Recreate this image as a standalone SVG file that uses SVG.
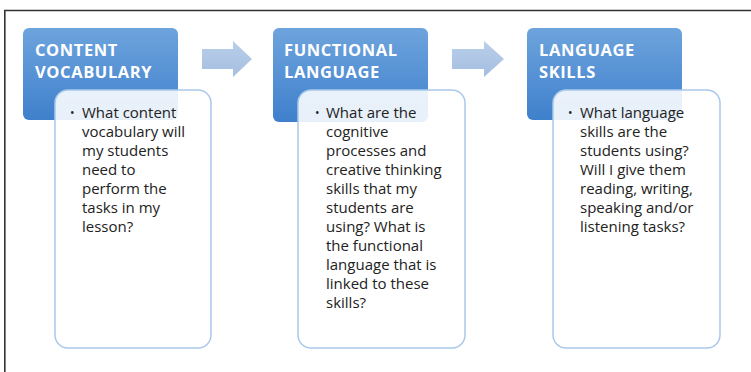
<svg xmlns="http://www.w3.org/2000/svg" width="751" height="372" viewBox="0 0 751 372">
<style>
.hdr{fill:url(#hg)}
.card{fill:#ffffff;fill-opacity:0.88;stroke:#a9c9ec;stroke-width:1.5}
.ht{font-family:"Open Sans","Noto Sans",sans-serif;font-weight:bold;font-size:16.5px;letter-spacing:0.6px;fill:#ffffff}
.bt{font-family:"Open Sans","Noto Sans",sans-serif;font-size:15px;fill:#222222}
.bl{font-family:"Open Sans","Noto Sans",sans-serif;font-size:12px;fill:#222222}
.arr{fill:url(#ag)}
.frame{stroke:#333;stroke-width:1.6;fill:none}
</style>
<defs>
<linearGradient id="hg" x1="0" y1="0" x2="0" y2="1">
<stop offset="0" stop-color="#6ea4dd"/>
<stop offset="1" stop-color="#3f80cc"/>
</linearGradient>
<linearGradient id="ag" x1="0" y1="0" x2="0" y2="1">
<stop offset="0" stop-color="#b9cfea"/>
<stop offset="1" stop-color="#a5bde0"/>
</linearGradient>
</defs>
<rect width="751" height="372" fill="#ffffff"/>
<path class="frame" d="M4.8,372 V10.5 H751"/>
<g id="connectors">
<path class="arr" d="M202,49 H233 V41 L252,59 L233,77 V69 H202 Z"/>
<path class="arr" d="M452,49 H484 V41 L504,59 L484,77 V69 H452 Z"/>
</g>
<g id="node1">
<rect class="hdr" x="23" y="28" width="155" height="92" rx="6"/>
<text class="ht" x="35" y="56">CONTENT</text>
<text class="ht" x="35" y="78">VOCABULARY</text>
<rect class="card" x="55" y="90" width="156" height="258" rx="13"/>
<text class="bl" x="70" y="117">•</text>
<text class="bt" x="82" y="118">What content</text>
<text class="bt" x="82" y="137">vocabulary will</text>
<text class="bt" x="82" y="156">my students</text>
<text class="bt" x="82" y="175">need to</text>
<text class="bt" x="82" y="194">perform the</text>
<text class="bt" x="82" y="213">tasks in my</text>
<text class="bt" x="82" y="232">lesson?</text>
</g>
<g id="node2">
<rect class="hdr" x="273" y="28" width="155" height="94" rx="6"/>
<text class="ht" x="284" y="56">FUNCTIONAL</text>
<text class="ht" x="284" y="78">LANGUAGE</text>
<rect class="card" x="298" y="90" width="167" height="258" rx="13"/>
<text class="bl" x="315" y="117">•</text>
<text class="bt" x="326" y="118">What are the</text>
<text class="bt" x="326" y="137">cognitive</text>
<text class="bt" x="326" y="156">processes and</text>
<text class="bt" x="326" y="175">creative thinking</text>
<text class="bt" x="326" y="194">skills that my</text>
<text class="bt" x="326" y="213">students are</text>
<text class="bt" x="326" y="232">using? What is</text>
<text class="bt" x="326" y="251">the functional</text>
<text class="bt" x="326" y="270">language that is</text>
<text class="bt" x="326" y="289">linked to these</text>
<text class="bt" x="326" y="308">skills?</text>
</g>
<g id="node3">
<rect class="hdr" x="527" y="28" width="155" height="92" rx="6"/>
<text class="ht" x="539" y="56">LANGUAGE</text>
<text class="ht" x="539" y="78">SKILLS</text>
<rect class="card" x="553" y="90" width="167" height="258" rx="13"/>
<text class="bl" x="568" y="117">•</text>
<text class="bt" x="580" y="118">What language</text>
<text class="bt" x="580" y="137">skills are the</text>
<text class="bt" x="580" y="156">students using?</text>
<text class="bt" x="580" y="175">Will I give them</text>
<text class="bt" x="580" y="194">reading, writing,</text>
<text class="bt" x="580" y="213">speaking and/or</text>
<text class="bt" x="580" y="232">listening tasks?</text>
</g>
</svg>
